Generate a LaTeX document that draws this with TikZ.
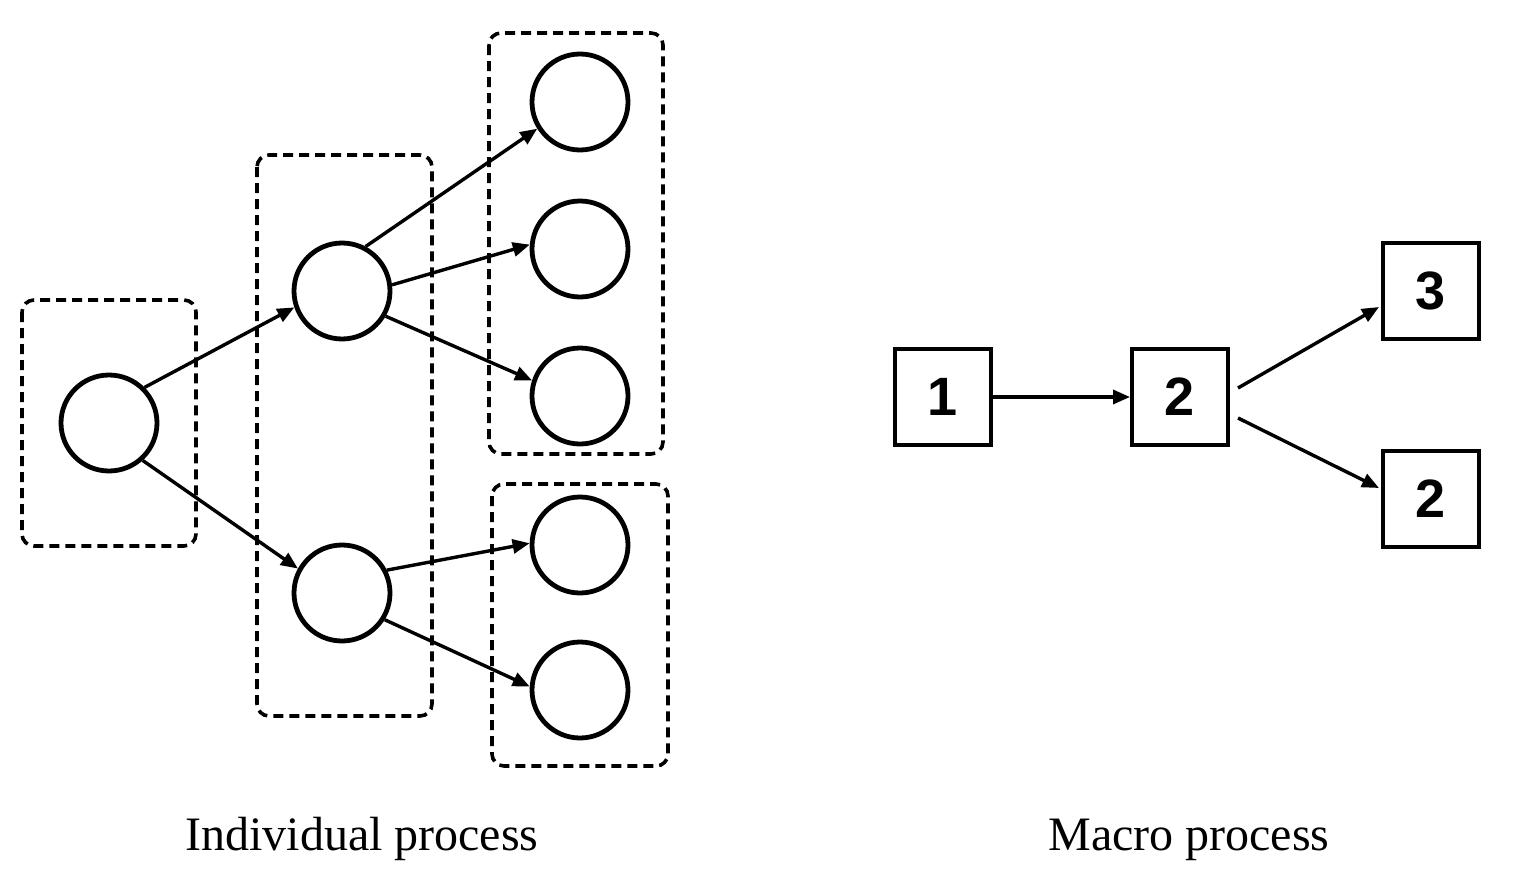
\documentclass[tikz,border=0pt]{standalone}
\usepackage{fontspec}
\setmainfont{Liberation Serif}
\newfontfamily\numfont{Liberation Sans}
\usetikzlibrary{arrows.meta,calc}
\begin{document}
\begin{tikzpicture}[x=0.5pt,y=-0.5pt,
  state/.style={circle,draw,line width=2.4pt,minimum size=48pt,inner sep=0pt},
  sq/.style={rectangle,draw,line width=1.8pt,minimum size=48.2pt,inner sep=0pt,font=\numfont\bfseries\fontsize{27}{27}\selectfont},
  grp/.style={draw,line width=1.8pt,dash pattern=on 5pt off 3pt,rounded corners=6pt},
  arr/.style={line width=1.7pt,-{Triangle[length=8.5pt,width=7pt]}},
  lbl/.style={font=\fontsize{24}{24}\selectfont,anchor=base}]
\useasboundingbox (0,0) rectangle (1516,878);
% group boxes
\draw[grp] (22,300) rectangle (196,546);
\draw[grp] (257,155) rectangle (432,716);
\draw[grp] (489,33) rectangle (663,454);
\draw[grp] (492,484) rectangle (668,766);
% circles
\node[state] (A) at (109,423) {};
\node[state] (B1) at (342,291) {};
\node[state] (B2) at (342,593) {};
\node[state] (C1) at (580,102) {};
\node[state] (C2) at (580,249) {};
\node[state] (C3) at (580,396) {};
\node[state] (C4) at (580,545) {};
\node[state] (C5) at (580,690) {};
\draw[arr] (A.45) -- (B1.199);
\draw[arr] (A.312) -- (B2.151);
\draw[arr] (B1.62) -- (C1.212);
\draw[arr] (B1.7) -- (C2.175);
\draw[arr] (B1.330) -- (C3.162);
\draw[arr] (B2.27) -- (C4.178);
\draw[arr] (B2.328) -- (C5.176);
% squares
\node[sq] (S1) at (943,397) {1};
\node[sq] (S2) at (1180,397) {2};
\node[sq] (S3) at (1431,291) {3};
\node[sq] (S4) at (1431,499) {2};
\draw[arr] ($(S1.east)+(-3,0)$) -- (S2.west);
\draw[arr] ($(S2.east)+(8,-9)$) -- ($(S3.west)+(-2,16)$);
\draw[arr] ($(S2.east)+(8,21)$) -- ($(S4.west)+(-2,-11)$);
% labels
\node[lbl] (L1) at (362,850) {Individual process};
\node[lbl] (L2) at (1189,850) {Macro process};
\end{tikzpicture}
\end{document}
